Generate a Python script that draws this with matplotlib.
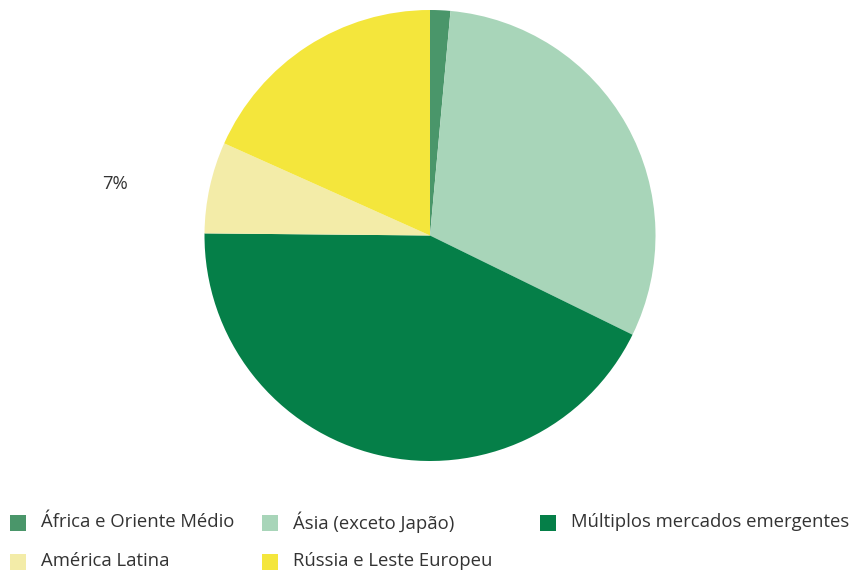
import matplotlib.pyplot as plt
from matplotlib.patches import Rectangle

# share of the fund by region (%)
regions = ["África e Oriente Médio", "Ásia (exceto Japão)", "Múltiplos mercados emergentes",
           "América Latina", "Rússia e Leste Europeu"]
shares = [1.45, 30.8, 42.9, 6.55, 18.3]
colors = ["#4a966a", "#a8d5b9", "#057f48", "#f3eca8", "#f4e63c"]

W, H = 850, 570
plt.rcParams["font.family"] = ["Open Sans", "DejaVu Sans"]
txt_color = "#333333"

fig = plt.figure(figsize=(W / 100, H / 100), dpi=100)

# pie centre and radius in pixels, axes spans +-1.5 radius
cx, cy, r = 430, 235.5, 225.5
half = 1.5 * r
ax = fig.add_axes([(cx - half) / W, (H - cy - half) / H, 2 * half / W, 2 * half / H])

wedges, _ = ax.pie(shares, colors=colors, startangle=90, counterclock=False,
                   radius=1, wedgeprops={"linewidth": 0})
ax.set_xlim(-1.5, 1.5)
ax.set_ylim(-1.5, 1.5)
ax.axis("off")

# only the latin america share is labelled, outside the pie
ax.text(-1.395, 0.23, "%.0f%%" % shares[3], ha="center", va="center",
        fontsize=13.3, color=txt_color)

# legend laid out by hand: 3 columns, 2 rows
order = [0, 1, 2, 3, 4]
col_x = [10, 262, 540, 10, 262]
row_y = [523, 523, 523, 562, 562]
sq = 16
for i, x, y in zip(order, col_x, row_y):
    fig.patches.append(Rectangle((x / W, (H - y - sq / 2) / H), sq / W, sq / H,
                                 transform=fig.transFigure, facecolor=colors[i],
                                 edgecolor="none"))
    fig.text((x + 31) / W, (H - y + 1) / H, regions[i], ha="left", va="center",
             fontsize=13.3, color=txt_color)

fig.savefig("out.png", dpi=100)
